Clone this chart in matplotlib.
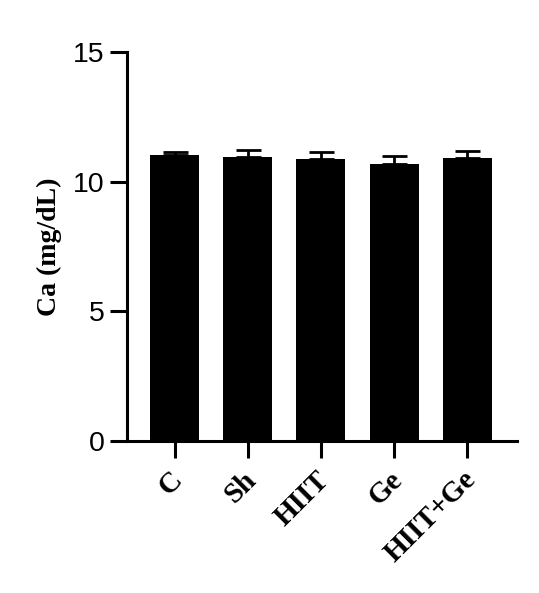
import matplotlib
matplotlib.use("Agg")
import matplotlib.pyplot as plt
from matplotlib.transforms import ScaledTranslation

categories = ["C", "Sh", "HIIT", "Ge", "HIIT+Ge"]
means = [11.03, 10.94, 10.87, 10.70, 10.92]
errors = [0.12, 0.30, 0.28, 0.30, 0.27]
yticks = [0, 5, 10, 15]

fig = plt.figure(figsize=(5.39, 5.93), dpi=100)
ax = fig.add_axes([127/539, 1-441/593, (517-127)/539, (441-52)/593])

x = list(range(len(categories)))
ax.bar(x, means, width=0.67, color="black", edgecolor="black", linewidth=0, zorder=2)
ax.errorbar(x, means, yerr=[[0]*len(errors), errors], fmt="none", ecolor="black",
            elinewidth=2.0, capsize=9, capthick=2.0, zorder=1)

ax.set_xlim(-0.65, 4.68)
ax.set_ylim(0, 15)
ax.set_yticks(yticks)
ax.set_yticklabels([str(t) for t in yticks], fontsize=20.5, family="Liberation Sans")
ax.set_xticks(x)
ax.set_xticklabels(categories, rotation=45, ha="right", va="center", rotation_mode="anchor",
                   fontsize=21, fontweight="bold", family="Liberation Serif")
ax.set_ylabel("Ca (mg/dL)", fontsize=20, fontweight="bold", family="Liberation Serif", labelpad=8)

for s in ["top", "right"]:
    ax.spines[s].set_visible(False)
for s in ["left", "bottom"]:
    ax.spines[s].set_linewidth(2.2)
ax.tick_params(axis="both", width=2.2, length=12, color="black")
ax.tick_params(axis="y", pad=4)
ax.tick_params(axis="x", pad=13)

offset = ScaledTranslation(4/100, 0, fig.dpi_scale_trans)
for lbl in ax.get_xticklabels():
    lbl.set_transform(lbl.get_transform() + offset)

fig.savefig("out.png", dpi=100)
